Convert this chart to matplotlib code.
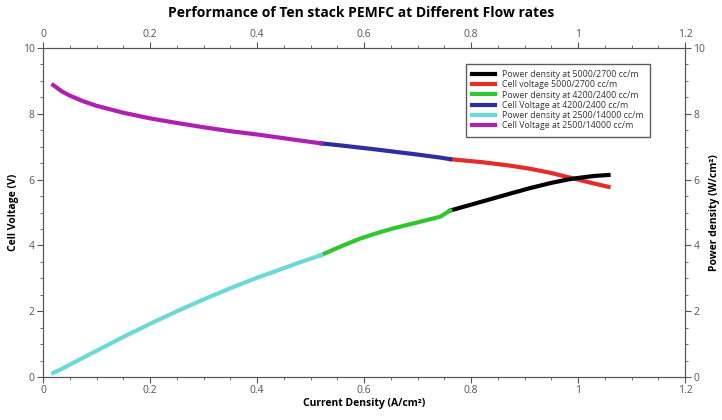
import matplotlib.pyplot as plt
from matplotlib.ticker import MultipleLocator

plt.rcParams['font.family'] = ['Open Sans', 'DejaVu Sans']

# current density (A/cm2) and readings
i_low = [0.019, 0.035, 0.05, 0.075, 0.10, 0.15, 0.20, 0.25, 0.30, 0.35, 0.40, 0.44, 0.47, 0.52]
v_low = [8.87, 8.68, 8.55, 8.38, 8.24, 8.03, 7.86, 7.72, 7.59, 7.47, 7.37, 7.28, 7.21, 7.10]
p_low = [0.13, 0.25, 0.38, 0.59, 0.80, 1.22, 1.62, 2.00, 2.36, 2.70, 3.02, 3.25, 3.43, 3.71]

i_mid = [0.52, 0.555, 0.593, 0.625, 0.655, 0.70, 0.742, 0.761]
v_mid = [7.10, 7.04, 6.97, 6.91, 6.85, 6.76, 6.67, 6.62]
p_mid = [3.71, 3.96, 4.21, 4.38, 4.52, 4.70, 4.87, 5.06]

i_high = [0.761, 0.82, 0.87, 0.91, 0.95, 0.98, 1.00, 1.03, 1.057]
v_high = [6.62, 6.53, 6.43, 6.33, 6.20, 6.08, 6.00, 5.88, 5.78]
p_high = [5.06, 5.33, 5.56, 5.74, 5.90, 6.00, 6.05, 6.11, 6.14]

grey = '#555555'
fig = plt.figure(figsize=(7.22, 4.2), dpi=100)
ax = fig.add_axes([0.0596, 0.102, 0.8892, 0.784])
ax2 = ax.twinx()

lw = 3
h1, = ax2.plot(i_high, p_high, color='black', lw=lw, label='Power density at 5000/2700 cc/m')
h2, = ax.plot(i_high, v_high, color='#e52d27', lw=lw, label='Cell voltage 5000/2700 cc/m')
h3, = ax2.plot(i_mid, p_mid, color='#2fc72f', lw=lw, label='Power density at 4200/2400 cc/m')
h4, = ax.plot(i_mid, v_mid, color='#2e2e9e', lw=lw, label='Cell Voltage at 4200/2400 cc/m')
h5, = ax2.plot(i_low, p_low, color='#6dd8d8', lw=lw, label='Power density at 2500/14000 cc/m')
h6, = ax.plot(i_low, v_low, color='#b020b0', lw=lw, label='Cell Voltage at 2500/14000 cc/m')

for a in (ax, ax2):
    a.set_xlim(0, 1.2)
    a.set_ylim(0, 10)
    for s in a.spines.values():
        s.set_color(grey)
    a.yaxis.set_major_locator(MultipleLocator(2))
    a.yaxis.set_minor_locator(MultipleLocator(0.5))
    a.tick_params(which='both', direction='out', colors=grey, labelsize=7.5, pad=2)
    a.tick_params(which='major', length=4)
    a.tick_params(which='minor', length=2.5)

ax.xaxis.set_major_locator(MultipleLocator(0.2))
ax.xaxis.set_minor_locator(MultipleLocator(0.05))
ax.xaxis.set_major_formatter(plt.FuncFormatter(lambda v, p: f'{v:g}'))
ax.tick_params(axis='x', which='both', top=True, labeltop=True)

ax.set_xlabel('Current Density (A/cm²)', fontsize=7.5, fontweight='bold', labelpad=1)
ax.set_ylabel('Cell Voltage (V)', fontsize=7.5, fontweight='bold', labelpad=3)
ax2.set_ylabel('Power density (W/cm²)', fontsize=7.5, fontweight='bold', labelpad=3)
fig.suptitle('Performance of Ten stack PEMFC at Different Flow rates',
             fontsize=10, fontweight='bold', y=0.985)

leg = ax2.legend(handles=[h1, h2, h3, h4, h5, h6], loc='upper right',
                 bbox_to_anchor=(0.952, 0.965), fontsize=6.3, frameon=True,
                 fancybox=False, handlelength=2.6, borderpad=0.7,
                 labelspacing=0.15, labelcolor='#333333')
leg.get_frame().set_edgecolor('#333333')
leg.get_frame().set_linewidth(1)

fig.savefig('out.png', dpi=100)
